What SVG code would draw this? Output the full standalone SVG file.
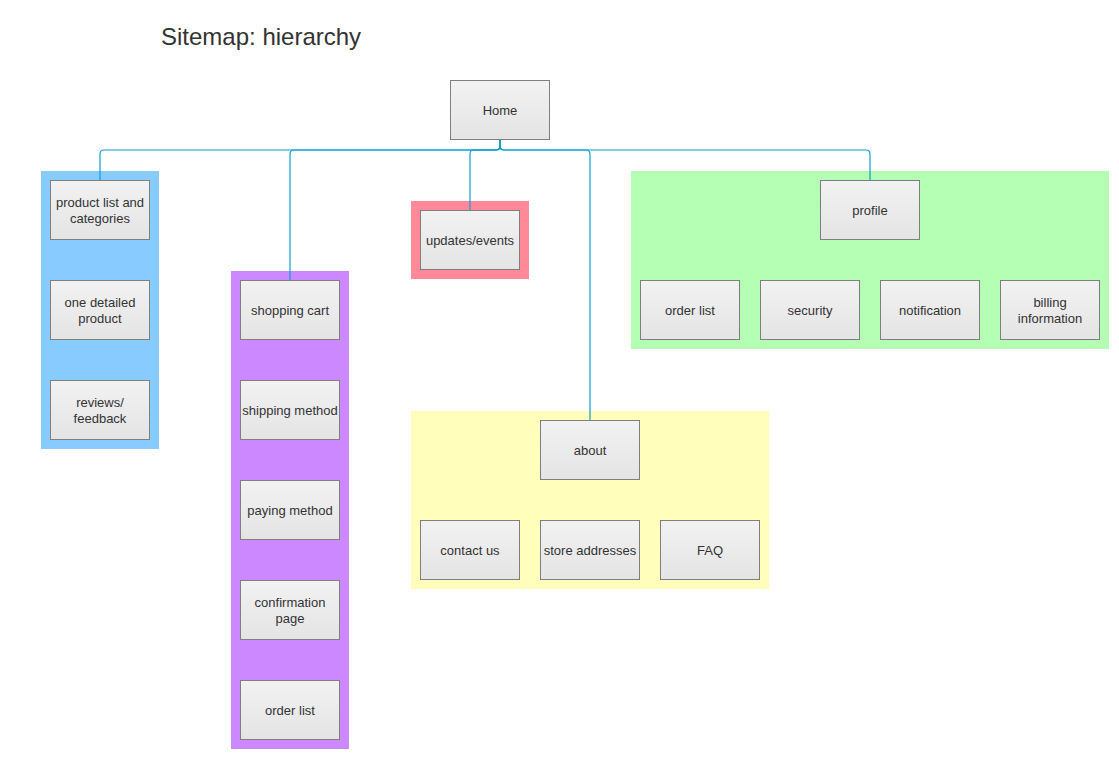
<svg xmlns="http://www.w3.org/2000/svg" width="1119" height="759" viewBox="0 0 1119 759">
<defs>
<linearGradient id="g" x1="0" y1="0" x2="0" y2="1">
<stop offset="0" stop-color="#f2f2f2"/>
<stop offset="1" stop-color="#e4e4e4"/>
</linearGradient>
<style>
.b{fill:url(#g);stroke:#7f7f7f;stroke-width:1}
.t{font-family:"Liberation Sans",Arial,sans-serif;font-size:13px;fill:#333;text-anchor:middle}
.c{fill:none;stroke:#0aa0d0;stroke-width:1.2}
</style>
</defs>
<rect width="1119" height="759" fill="#fff"/>
<text x="161" y="45" font-family="Liberation Sans,Arial,sans-serif" font-size="24" fill="#333">Sitemap: hierarchy</text>

<g id="bg">
<rect x="41" y="171" width="118" height="278" fill="#88ccff"/>
<rect x="231" y="271" width="118" height="478" fill="#cc88ff"/>
<rect x="411" y="201" width="118" height="78" fill="#ff8899"/>
<rect x="631" y="171" width="478" height="178" fill="#b5ffb5"/>
<rect x="411" y="411" width="358" height="178" fill="#ffffbb"/>
</g>

<g id="connectors">
<path class="c" d="M500,139.5 V146 Q500,150 496,150 H104 Q100,150 100,154 V180"/>
<path class="c" d="M500,139.5 V146 Q500,150 496,150 H294 Q290,150 290,154 V280"/>
<path class="c" d="M500,139.5 V146 Q500,150 496,150 H474 Q470,150 470,154 V210"/>
<path class="c" d="M500,139.5 V146 Q500,150 504,150 H586 Q590,150 590,154 V420"/>
<path class="c" d="M500,139.5 V146 Q500,150 504,150 H866 Q870,150 870,154 V180"/>
</g>

<g id="home"><rect class="b" x="450.5" y="80.5" width="99" height="59"/><text class="t" x="500" y="115">Home</text></g>

<g id="products"><rect class="b" x="50.5" y="180.5" width="99" height="59"/><text class="t" x="100" y="207">product list and</text><text class="t" x="100" y="223">categories</text></g>
<g id="detail"><rect class="b" x="50.5" y="280.5" width="99" height="59"/><text class="t" x="100" y="307">one detailed</text><text class="t" x="100" y="323">product</text></g>
<g id="reviews"><rect class="b" x="50.5" y="380.5" width="99" height="59"/><text class="t" x="100" y="407">reviews/</text><text class="t" x="100" y="423">feedback</text></g>

<g id="cart"><rect class="b" x="240.5" y="280.5" width="99" height="59"/><text class="t" x="290" y="315">shopping cart</text></g>
<g id="shipping"><rect class="b" x="240.5" y="380.5" width="99" height="59"/><text class="t" x="290" y="415">shipping method</text></g>
<g id="paying"><rect class="b" x="240.5" y="480.5" width="99" height="59"/><text class="t" x="290" y="515">paying method</text></g>
<g id="confirmation"><rect class="b" x="240.5" y="580.5" width="99" height="59"/><text class="t" x="290" y="607">confirmation</text><text class="t" x="290" y="623">page</text></g>
<g id="orderlist1"><rect class="b" x="240.5" y="680.5" width="99" height="59"/><text class="t" x="290" y="715">order list</text></g>

<g id="updates"><rect class="b" x="420.5" y="210.5" width="99" height="59"/><text class="t" x="470" y="245">updates/events</text></g>

<g id="about"><rect class="b" x="540.5" y="420.5" width="99" height="59"/><text class="t" x="590" y="455">about</text></g>
<g id="contact"><rect class="b" x="420.5" y="520.5" width="99" height="59"/><text class="t" x="470" y="555">contact us</text></g>
<g id="stores"><rect class="b" x="540.5" y="520.5" width="99" height="59"/><text class="t" x="590" y="555">store addresses</text></g>
<g id="faq"><rect class="b" x="660.5" y="520.5" width="99" height="59"/><text class="t" x="710" y="555">FAQ</text></g>

<g id="profile"><rect class="b" x="820.5" y="180.5" width="99" height="59"/><text class="t" x="870" y="215">profile</text></g>
<g id="orderlist2"><rect class="b" x="640.5" y="280.5" width="99" height="59"/><text class="t" x="690" y="315">order list</text></g>
<g id="security"><rect class="b" x="760.5" y="280.5" width="99" height="59"/><text class="t" x="810" y="315">security</text></g>
<g id="notification"><rect class="b" x="880.5" y="280.5" width="99" height="59"/><text class="t" x="930" y="315">notification</text></g>
<g id="billing"><rect class="b" x="1000.5" y="280.5" width="99" height="59"/><text class="t" x="1050" y="307">billing</text><text class="t" x="1050" y="323">information</text></g>
</svg>
